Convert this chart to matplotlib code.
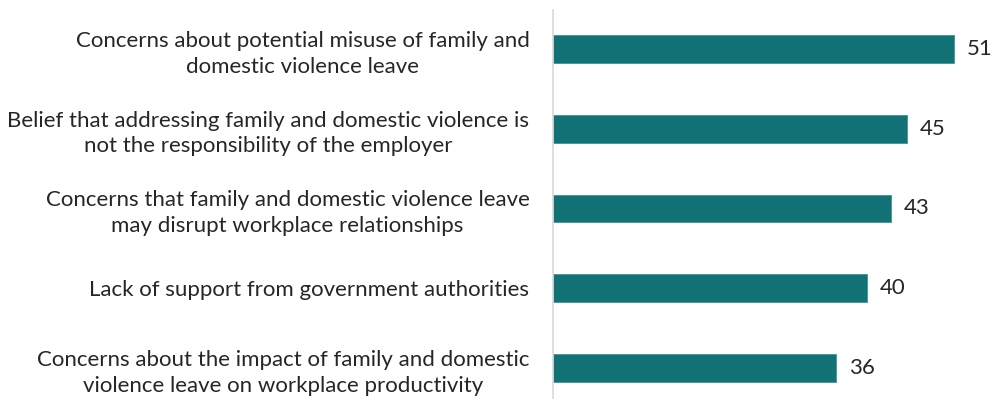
import matplotlib

matplotlib.use("Agg")

import matplotlib.pyplot as plt

plt.rcParams["font.family"] = ["Lato", "DejaVu Sans"]

categories = [
    "Concerns about potential misuse of family and\ndomestic violence leave",
    "Belief that addressing family and domestic violence is\nnot the responsibility of the employer",
    "Concerns that family and domestic violence leave\nmay disrupt workplace relationships",
    "Lack of support from government authorities",
    "Concerns about the impact of family and domestic\nviolence leave on workplace productivity",
]
values = [51, 45, 43, 40, 36]

BAR_COLOR = "#137275"
TEXT_COLOR = "#262626"

fig = plt.figure(figsize=(9.97, 3.99), dpi=100)
ax = fig.add_axes([553 / 997, 0.0, 444 / 997, 1 - 10 / 399])

positions = list(range(len(categories)))
ax.barh(positions, values, height=0.35, color=BAR_COLOR,
        edgecolor="#3f9497", linewidth=0.6)

for y, v in zip(positions, values):
    ax.text(v + 1.6, y, f"{v}", va="center", ha="left",
            fontsize=16, color=TEXT_COLOR)

ax.set_xlim(0, 444 / 7.86)
ax.set_ylim(len(categories) - 1 + 0.39, -0.49)

ax.set_yticks(positions)
ax.set_yticklabels(categories, fontsize=16, color=TEXT_COLOR,
                   multialignment="center", linespacing=1.35)
ax.tick_params(axis="y", length=0, pad=17)
ax.set_xticks([])

for side in ("top", "right", "bottom"):
    ax.spines[side].set_visible(False)
ax.spines["left"].set_color("#d9d9d9")
ax.spines["left"].set_linewidth(1.2)

fig.savefig("out.png", dpi=100)
